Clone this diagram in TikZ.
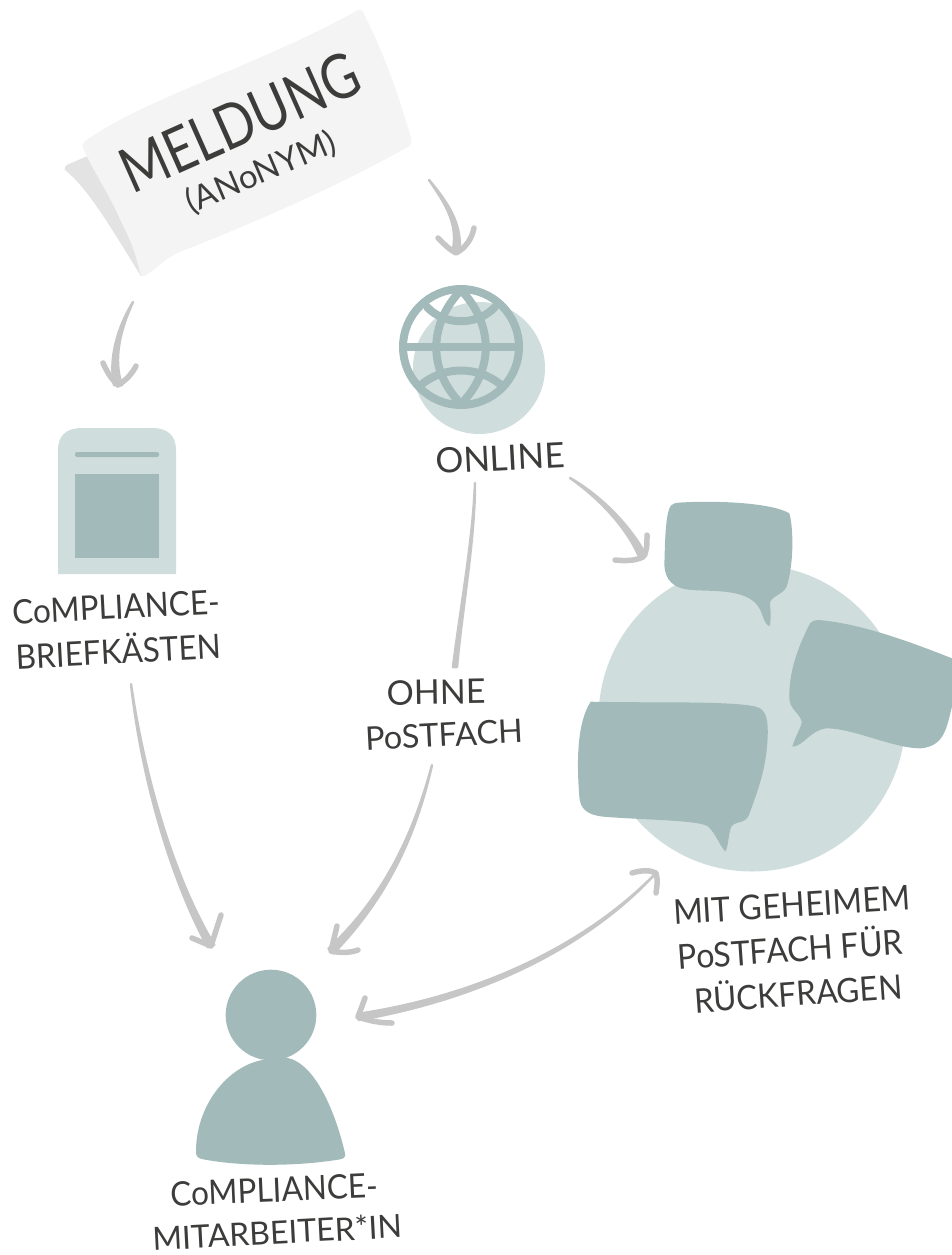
\documentclass[tikz,border=0pt]{standalone}
\usepackage{fontspec}
\setmainfont{Lato}
\usetikzlibrary{calc}
\definecolor{sage}{HTML}{A2BBBA}
\definecolor{pale}{HTML}{D0DDDD}
\definecolor{arrowgrey}{HTML}{C6C6C6}
\definecolor{ink}{HTML}{3C3C3B}
\definecolor{paper}{HTML}{F4F4F4}
\definecolor{papershade}{HTML}{E3E3E3}
\newcommand{\tall}[1]{\scalebox{1}[1.07]{#1}}
\tikzset{
  lab/.style={text=ink,font=\fontsize{31.5}{32}\selectfont,inner sep=0pt},
  sagefill/.style={fill=sage,draw=none},
  palefill/.style={fill=pale,draw=none},
  wing/.style={draw=arrowgrey,line width=5.5pt,line cap=round,line join=round,fill=none},
  shaft/.style={fill=arrowgrey,draw=arrowgrey,line width=2.5pt,line join=round},
  zoomed/.style={x=0.33333pt,y=-0.33333pt}
}
% tapered shaft: start, ctrl1, ctrl2, end, half-width offset
\newcommand{\taper}[5]{\filldraw[shaft] (#1) .. controls (#2) and (#3) .. ($(#4)+(#5)$) -- ($(#4)-(#5)$) .. controls ($(#3)-(#5)$) and ($(#2)-(#5)$) .. (#1) -- cycle;}
\begin{document}
\begin{tikzpicture}[x=1pt,y=-1pt]
\useasboundingbox (0,0) rectangle (952,1255);
\clip (0,0) rectangle (952,1255);
% paper
\fill[papershade] (65,170) .. controls (64,167) and (66,165) .. (69,164) -- (90,155) -- (145,272) -- (141,276) .. controls (115,235) and (90,190) .. (65,170) -- cycle;
\fill[paper] (84,142) .. controls (140,100) and (260,65) .. (358,10) .. controls (360,9) and (362,10) .. (363,12) .. controls (385,55) and (400,100) .. (411,138) .. controls (412,142) and (411,145) .. (408,147) .. controls (330,190) and (260,220) .. (180,252) .. controls (165,258) and (155,270) .. (146,275) .. controls (143,277) and (141,276) .. (140,273) .. controls (130,225) and (100,185) .. (84,150) .. controls (82,146) and (82,144) .. (84,142) -- cycle;
\node[lab,font=\fontsize{51}{51}\selectfont,rotate=24] (meldung) at (240,122) {\scalebox{1}[1.22]{MELDUNG}};
\node[lab,font=\fontsize{33}{33}\selectfont,rotate=23] (anonym) at (261,173) {(ANoNYM)};
\coordinate (paperOut1) at (133,302);
\coordinate (paperOut2) at (429,180);
% globe
\fill[palefill] (479,368) circle (66);
\begin{scope}[draw=sage,line width=8pt,line cap=round]
\draw (461,347) circle (58);
\draw (405,347) -- (517,347);
\draw (461,290) .. controls (428,325) and (428,370) .. (461,404);
\draw (461,290) .. controls (494,325) and (494,370) .. (461,404);
\draw (427,307) .. controls (445,326) and (477,326) .. (495,307);
\draw (422,384) .. controls (445,366) and (477,366) .. (500,384);
\end{scope}
\node[lab,font=\fontsize{35}{35}\selectfont,rotate=3] (online) at (500,458) {ONLINE};
\coordinate (onlineDown) at (475,483);
\coordinate (onlineRight) at (570,478);
% mailbox
\fill[palefill] (58,574) -- (58,450) .. controls (58,434) and (68,428) .. (82,428) -- (152,428) .. controls (168,428) and (176,436) .. (176,450) -- (176,574) -- cycle;
\fill[sagefill,rounded corners=2pt] (75,452) rectangle (159,457);
\fill[sagefill] (75,474) -- (159,474) -- (159,558) -- (75,558) -- cycle;
\node[lab,rotate=3] (cb1) at (116,607) {\tall{CoMPLIANCE-}};
\node[lab,rotate=3] (cb2) at (118,649) {\tall{BRIEFKÄSTEN}};
\coordinate (boxOut) at (131,684);
% big circle and bubbles
\fill[palefill] (752,718) circle (153.5);
\begin{scope}[shift={(560,480)},zoomed]
\fill[sagefill] (355,68) .. controls (480,60) and (640,70) .. (688,100) .. controls (698,130) and (705,240) .. (680,320) .. controls (670,345) and (625,350) .. (630,375) .. controls (633,395) and (632,420) .. (630,438) .. controls (610,435) and (610,400) .. (595,380) .. controls (560,325) and (450,335) .. (400,330) .. controls (340,328) and (315,300) .. (313,255) .. controls (315,200) and (315,90) .. (335,75) .. controls (340,70) and (350,68) .. (355,68) -- cycle;
\fill[sagefill] (775,420) .. controls (900,430) and (1050,485) .. (1176,535) -- (1176,680) .. controls (1160,740) and (1155,800) .. (1080,805) .. controls (1000,805) and (880,745) .. (800,745) .. controls (750,750) and (730,800) .. (697,800) .. controls (705,770) and (725,740) .. (725,725) .. controls (720,700) and (690,690) .. (688,655) .. controls (685,560) and (730,470) .. (750,430) .. controls (755,422) and (765,420) .. (775,420) -- cycle;
\fill[sagefill] (92,665) .. controls (250,670) and (560,660) .. (600,685) .. controls (625,700) and (625,740) .. (622,790) .. controls (615,880) and (590,940) .. (567,1005) .. controls (555,1035) and (520,1020) .. (512,1045) .. controls (505,1070) and (505,1095) .. (497,1115) .. controls (480,1100) and (470,1065) .. (445,1040) .. controls (420,1020) and (250,1020) .. (130,1010) .. controls (80,1005) and (60,985) .. (58,950) .. controls (50,850) and (50,730) .. (92,665) -- cycle;
\end{scope}
\node[lab,font=\fontsize{32}{32}\selectfont,rotate=3.5] (g1) at (792,905) {\tall{MIT GEHEIMEM}};
\node[lab,font=\fontsize{32}{32}\selectfont,rotate=4] (g2) at (790,947) {\tall{PoSTFACH FÜR}};
\node[lab,rotate=4] (g3) at (798,991) {\tall{RÜCKFRAGEN}};
\coordinate (chatIn) at (643,557);
\coordinate (chatOut) at (656,873);
% person
\begin{scope}[shift={(130,860)},zoomed]
\fill[sagefill] (423,465) circle [x radius=136,y radius=136];
\fill[sagefill] (470,593) .. controls (560,610) and (620,770) .. (645,880) .. controls (648,892) and (640,896) .. (630,898) .. controls (500,920) and (330,920) .. (215,897) .. controls (200,893) and (197,885) .. (198,870) .. controls (200,730) and (300,610) .. (410,598) -- cycle;
\end{scope}
\node[lab,rotate=2.5] (cm1) at (274,1190) {\tall{CoMPLIANCE-}};
\node[lab,font=\fontsize{32}{32}\selectfont,rotate=3] (cm2) at (277,1232) {MITARBEITER*IN};
\coordinate (personA) at (211,946);
\coordinate (personB) at (331,951);
\coordinate (personC) at (358,1017);
% label-side connector ends
\node[lab,font=\fontsize{34}{34}\selectfont,rotate=1] (o1) at (436,692) {OHNE};
\node[lab,font=\fontsize{32.5}{33}\selectfont,rotate=3] (o2) at (444,735) {PoSTFACH};
\coordinate (ohneIn) at (455,667);
\coordinate (ohneOut) at (432,765);
% arrows
\taper{paperOut2}{450,205}{462,225}{456,252}{3.5,0}
\draw[wing] (438,238) .. controls (445,245) and (450,250) .. (456,253) .. controls (466,248) and (472,238) .. (474,228);
\taper{paperOut1}{120,330}{113,360}{118,385}{4,0}
\draw[wing] (103,363) .. controls (107,372) and (112,380) .. (118,385) .. controls (127,380) and (133,372) .. (136,366);
\taper{boxOut}{145,780}{175,880}{personA}{3.2,-1.2}
\draw[wing] (192,938) -- (personA) -- (221,915);
\taper{ohneOut}{415,840}{385,900}{personB}{2.4,2.4}
\draw[wing] (337,926) -- (personB) .. controls (340,953) and (350,953) .. (358,950);
\taper{onlineDown}{475,540}{462,610}{ohneIn}{2,0}
\taper{onlineRight}{600,495}{630,525}{chatIn}{3.2,-1.5}
\draw[wing] (647,535) .. controls (647,545) and (647,552) .. (chatIn) .. controls (635,561) and (625,561) .. (615,560);
\taper{chatOut}{590,945}{485,998}{personC}{0.8,3}
\draw[wing] (365,998) -- (personC) .. controls (370,1021) and (380,1023) .. (392,1023);
\draw[wing] (632,873) .. controls (642,870) and (650,870) .. (chatOut) .. controls (658,880) and (657,887) .. (656,893);
\end{tikzpicture}
\end{document}
